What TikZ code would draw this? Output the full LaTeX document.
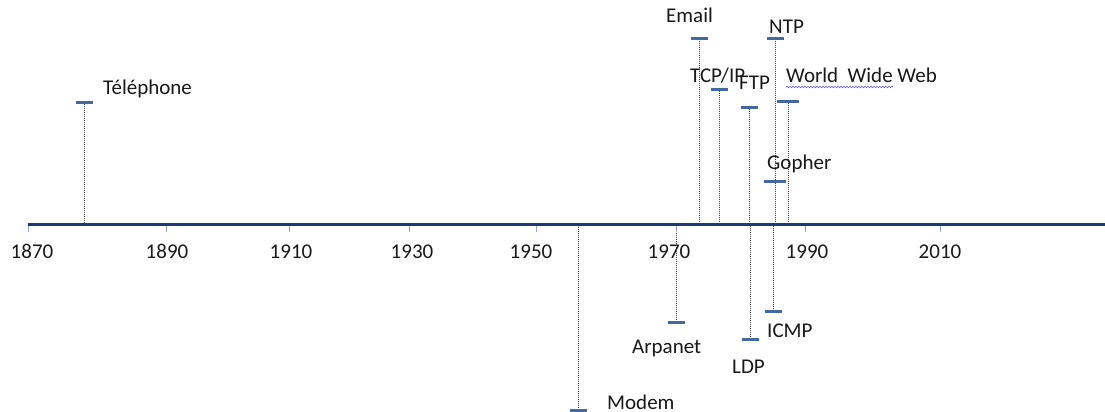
\documentclass[tikz,border=0pt]{standalone}
\usepackage{fontspec}
\setmainfont{Carlito}
\usetikzlibrary{decorations.pathmorphing}
\definecolor{axisblue}{HTML}{1B3A78}
\definecolor{markblue}{HTML}{44699C}
\definecolor{tickblue}{HTML}{8FA8C6}
\definecolor{dotgray}{HTML}{404040}
\definecolor{spell}{HTML}{6A5ACD}
\tikzset{
 evt/.style={draw=none,fill=markblue,minimum width=17pt,minimum height=3pt,inner sep=0pt,outer sep=0pt},
 wideevt/.style={evt,minimum width=22pt},
 drop/.style={dotgray,line width=0.9pt,dash pattern=on 1pt off 1pt},
 lbl/.style={anchor=base west,inner sep=0pt,font=\fontsize{21}{25}\selectfont,text=black!90},
 yr/.style={anchor=base,inner sep=0pt,font=\fontsize{21}{25}\selectfont,text=black!90},
 tickmark/.style={tickblue,line width=1pt},
 axisline/.style={axisblue,line width=3pt},
}
\begin{document}
\begin{tikzpicture}[x=1pt,y=-1pt]
\path[use as bounding box] (0,0) rectangle (1105,412);
\fill[white] (0,0) rectangle (1105,412);
% axis ends
\coordinate (axL) at (28,224);
\coordinate (axR) at (1105,224);
% event points
\coordinate (pTel) at (84,102);
\coordinate (pEmail) at (699,39);
\coordinate (pNtp) at (775,39);
\coordinate (pTcp) at (719,89);
\coordinate (pFtp) at (749,107);
\coordinate (pWww) at (788,101);
\coordinate (pGopher) at (775,181);
\coordinate (pArpa) at (676,322);
\coordinate (pLdp) at (750,339);
\coordinate (pIcmp) at (773,311);
\coordinate (pModem) at (578,410);
% drop lines
\foreach \p in {pTel,pEmail,pNtp,pTcp,pFtp,pWww,pGopher,pArpa,pLdp,pIcmp,pModem}
  \draw[drop] (\p) -- (\p |- axL);
% ticks
\foreach \x/\n in {28/t1,166/t2,289/t3,409/t4,536/t5,676/t6,805/t7,940/t8}{
  \coordinate (\n) at (\x,224);
  \draw[tickmark] (\n) -- ++(0,8);
}
% axis
\draw[axisline] (axL) -- (axR);
% markers
\node[evt] (mTel) at (pTel) {};
\node[evt] (mEmail) at (pEmail) {};
\node[evt] (mNtp) at (pNtp) {};
\node[evt] (mTcp) at (pTcp) {};
\node[evt] (mFtp) at (pFtp) {};
\node[wideevt] (mWww) at (pWww) {};
\node[wideevt] (mGopher) at (pGopher) {};
\node[evt] (mArpa) at (pArpa) {};
\node[evt] (mLdp) at (pLdp) {};
\node[evt] (mIcmp) at (pIcmp) {};
\node[evt] (mModem) at (pModem) {};
% event labels
\node[lbl] (lTel) at (103,94) {Téléphone};
\node[lbl] (lEmail) at (666,23) {Email};
\node[lbl] (lNtp) at (769,34) {NTP};
\node[lbl] (lTcp) at (690,82) {TCP/IP};
\node[lbl] (lFtp) at (739,89) {FTP};
\node[lbl] (lWww) at (786,82) {World\ \ Wide Web};
\node[lbl] (lGopher) at (767,169) {Gopher};
\node[lbl] (lArpa) at (632,353) {Arpanet};
\node[lbl] (lLdp) at (732,373) {LDP};
\node[lbl] (lIcmp) at (767,337) {ICMP};
\node[lbl] (lModem) at (607,409) {Modem};
% spell-check underline
\draw[spell,line width=0.6pt,decorate,decoration={snake,amplitude=0.8pt,segment length=3pt}] (786,87) -- (893,87);
% year labels
\foreach \x/\y in {32/1870,167/1890,291/1910,412/1930,531/1950,669/1970,807/1990,940/2010}
  \node[yr] (y\y) at (\x,258) {\y};
\end{tikzpicture}
\end{document}
